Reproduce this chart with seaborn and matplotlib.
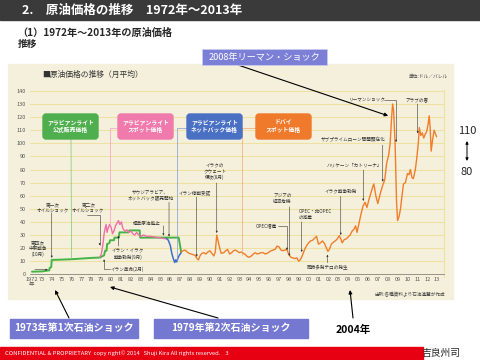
import matplotlib
matplotlib.use("Agg")
import matplotlib.pyplot as plt
from matplotlib.patches import Rectangle, FancyBboxPatch
import seaborn as sns

# --- data (USD / barrel, monthly averages) ---
official_years = [1972.0, 1973.0, 1973.75, 1973.8, 1973.95, 1974.0, 1975.0, 1976.0, 1977.0, 1978.0,
                  1978.9, 1979.0, 1979.3, 1979.4, 1979.55, 1979.6, 1979.85, 1979.9, 1980.3, 1980.35,
                  1980.8, 1980.85, 1981.8, 1981.85, 1982.9, 1982.95, 1986.85, 1987.1]
official_price = [2.0, 2.2, 3.0, 5.0, 5.5, 11.0, 11.2, 11.5, 12.0, 12.5,
                  12.8, 13.3, 14.5, 18.0, 18.0, 23.0, 24.0, 26.0, 26.0, 28.0,
                  28.0, 32.0, 32.0, 33.5, 33.5, 28.0, 28.0, 17.0]

spot_years = [1978.85, 1979.0, 1979.1, 1979.2, 1979.3, 1979.4, 1979.5, 1979.6, 1979.7, 1979.85,
              1980.0, 1980.15, 1980.3, 1980.45, 1980.6, 1980.75, 1980.9, 1981.05, 1981.2, 1981.4,
              1981.6, 1981.8, 1982.0, 1982.2, 1982.4, 1982.6, 1982.8, 1983.0, 1983.3, 1983.6,
              1984.0, 1984.4, 1984.8, 1985.2, 1985.6]
spot_price = [13, 15, 19, 24, 31, 35, 38, 32, 35, 38,
              36, 31, 33, 37, 39, 41, 38, 40, 35, 33,
              34, 32, 33, 31, 30, 32, 30, 29, 30, 29,
              29, 28.5, 28, 27.5, 27]

netback_years = [1985.6, 1985.8, 1986.0, 1986.15, 1986.3, 1986.45, 1986.55, 1986.65, 1986.8, 1986.95, 1987.1]
netback_price = [27.5, 26, 22, 16, 12, 9, 11, 9.5, 13, 15, 16.5]

dubai_years = [1987.1, 1987.3, 1987.5, 1987.7, 1987.9, 1988.1, 1988.3, 1988.5, 1988.7, 1988.85,
               1989.0, 1989.2, 1989.4, 1989.6, 1989.8, 1990.0, 1990.2, 1990.4, 1990.55, 1990.7,
               1990.85, 1991.0, 1991.15, 1991.4, 1991.6, 1991.8, 1992.0, 1992.2, 1992.4, 1992.6,
               1992.8, 1993.0, 1993.2, 1993.4, 1993.6, 1993.8, 1994.0, 1994.2, 1994.4, 1994.6,
               1994.8, 1995.0, 1995.2, 1995.4, 1995.6, 1995.8, 1996.0, 1996.2, 1996.4, 1996.6,
               1996.8, 1997.0, 1997.2, 1997.4, 1997.6, 1997.8, 1998.0, 1998.2, 1998.4, 1998.6,
               1998.8, 1999.0, 1999.2, 1999.4, 1999.6, 1999.8, 2000.0, 2000.2, 2000.4, 2000.6,
               2000.8, 2001.0, 2001.2, 2001.4, 2001.6, 2001.8, 2001.95, 2002.1, 2002.3, 2002.5,
               2002.7, 2002.9, 2003.1, 2003.25, 2003.4, 2003.6, 2003.8, 2004.0, 2004.2, 2004.4,
               2004.6, 2004.75, 2004.9, 2005.1, 2005.3, 2005.5, 2005.7, 2005.9, 2006.1, 2006.3,
               2006.5, 2006.6, 2006.8, 2007.0, 2007.1, 2007.3, 2007.5, 2007.7, 2007.9, 2008.1,
               2008.25, 2008.4, 2008.5, 2008.6, 2008.75, 2008.9, 2009.0, 2009.15, 2009.3, 2009.45,
               2009.6, 2009.8, 2010.0, 2010.15, 2010.3, 2010.45, 2010.6, 2010.8, 2010.95, 2011.1,
               2011.2, 2011.35, 2011.5, 2011.65, 2011.8, 2011.95, 2012.1, 2012.2, 2012.3, 2012.4,
               2012.55, 2012.7, 2012.85, 2012.95]
dubai_price = [17, 18, 18.5, 17, 16, 15.5, 15, 14.5, 12, 11,
               14, 16, 16.5, 15.5, 17, 18, 16, 14, 17, 30,
               25, 20, 16, 16.5, 18, 19, 15.5, 16.5, 18, 18.5,
               17.5, 16.5, 17, 16, 15, 13.5, 13, 14, 15.5, 16.5,
               15.5, 16, 16.5, 16.5, 15.5, 16, 17, 18, 18.5, 19,
               21.5, 21, 18.5, 18, 18.5, 19, 15, 13, 12.5, 12,
               12.5, 10, 11.5, 15, 19, 22, 24, 25.5, 26, 27.5,
               29, 23, 24, 25.5, 23.5, 20, 17.5, 19, 23, 24.5,
               25.5, 27, 29.5, 27, 24, 26.5, 27, 28.5, 30, 33,
               34.5, 37, 32, 39, 46, 52, 55, 51, 57, 62,
               67, 69, 60, 54, 57, 63, 68, 72, 85, 91,
               100, 120, 130, 125, 100, 55, 41, 44, 50, 60,
               69, 70, 77, 76, 80, 74, 73, 80, 89, 100,
               112, 106, 108, 104, 107, 109, 115, 121, 112, 94,
               103, 110, 107, 105]

year_ticks = list(range(1972, 2014))
year_labels = ["1972\n年"] + [f"{y % 100:02d}" for y in range(1973, 2014)]
grid_years = [1975, 1980, 1985, 1990, 1995, 2000, 2005, 2010]
price_ticks = list(range(0, 150, 10))

C_GREEN, C_PINK, C_BLUE, C_ORANGE = "#45b348", "#f06fa8", "#3f6dcc", "#f07d2c"
BEIGE, GRID = "#f5f0dc", "#efe1a2"

sns.set_style("white")
plt.rcParams["font.family"] = ["Noto Sans CJK JP", "DejaVu Sans"]

fig = plt.figure(figsize=(4.8, 3.6), dpi=100)

# background layer in pixel coordinates
bg = fig.add_axes([0, 0, 1, 1])
bg.set_xlim(0, 480)
bg.set_ylim(360, 0)
bg.axis("off")

bg.add_patch(Rectangle((0, 0), 480, 20, color="#3a3a3a"))
bg.text(22, 10.5, "2.　原油価格の推移　1972年～2013年", color="white", fontsize=9,
        fontweight="bold", va="center", ha="left")
bg.text(17, 33, "（1）1972年～2013年の原油価格", fontsize=7.3, fontweight="bold", va="center")
bg.text(18, 44, "推移", fontsize=7, fontweight="bold", va="center")

bg.add_patch(Rectangle((8, 64), 445, 235, color=BEIGE))
bg.text(42, 75, "■原油価格の推移（月平均）", fontsize=5.6, color="#333333", va="center")
bg.text(428, 76, "単位:ドル／バレル", fontsize=3.4, color="#444444", va="center", ha="center")
bg.text(410, 295, "出所:各種資料より石油連盟が作成", fontsize=3.3, color="#444444",
        va="center", ha="center")

# outer call-out boxes
bg.add_patch(Rectangle((10, 319), 128, 19, color="#7478d0"))
bg.text(74, 328.5, "1973年第1次石油ショック", color="white", fontsize=7.2, fontweight="bold",
        ha="center", va="center")
bg.add_patch(Rectangle((154, 319), 154, 19, color="#7478d0"))
bg.text(231, 328.5, "1979年第2次石油ショック", color="white", fontsize=7.2, fontweight="bold",
        ha="center", va="center")
bg.text(353, 330, "2004年", color="black", fontsize=7.5, fontweight="bold", ha="center", va="center")

arrow_kw = dict(arrowstyle="-|>", lw=0.8, color="black", mutation_scale=5, shrinkA=0, shrinkB=0)
bg.annotate("", xy=(55, 290), xytext=(69, 318), arrowprops=arrow_kw)
bg.annotate("", xy=(110, 287), xytext=(218, 318), arrowprops=arrow_kw)
bg.annotate("", xy=(350, 290), xytext=(353, 318), arrowprops=arrow_kw)

# right-hand range note
bg.text(467, 131, "110", fontsize=8, ha="center", va="center")
bg.text(467, 172, "80", fontsize=8, ha="center", va="center")
bg.annotate("", xy=(467, 161), xytext=(467, 141),
            arrowprops=dict(arrowstyle="<|-|>", lw=0.7, color="black", mutation_scale=4,
                            shrinkA=0, shrinkB=0))

# footer
bg.add_patch(Rectangle((0, 347), 423, 13, color="#e60012"))
bg.text(5, 353.5, "CONFIDENTIAL & PROPRIETARY  copy right© 2014   Shuji Kira All rights reserved.    3",
        color="white", fontsize=4.2, va="center")
bg.text(441, 353, "吉良州司", fontsize=7, ha="center", va="center")

# main chart
ax = fig.add_axes([30 / 480, 0.2308, 414 / 480, 0.5203])
ax.set_facecolor("none")

for xs, ys, col, lw in [(official_years, official_price, C_GREEN, 1.4),
                        (spot_years, spot_price, C_PINK, 1.0),
                        (netback_years, netback_price, C_BLUE, 1.1),
                        (dubai_years, dubai_price, C_ORANGE, 1.0)]:
    sns.lineplot(x=xs, y=ys, ax=ax, color=col, lw=lw, estimator=None, sort=False, zorder=3)

ax.set_xlim(1971.8, 2013.7)
ax.set_ylim(-2, 141)
for s in ["top", "left"]:
    ax.spines[s].set_visible(False)
ax.spines["right"].set_color(GRID)
ax.spines["right"].set_linewidth(0.8)
ax.spines["bottom"].set_position(("data", 0))
ax.spines["bottom"].set_color("#888888")
ax.spines["bottom"].set_linewidth(0.6)

ax.set_xticks(year_ticks)
ax.set_xticklabels(year_labels, linespacing=1.0)
ax.set_xticks(grid_years, minor=True)
ax.set_yticks(price_ticks)
ax.set_yticklabels([str(v) for v in price_ticks])
ax.tick_params(axis="x", which="major", direction="in", length=3, width=0.5, color="#777777",
               pad=2, labelsize=4, labelcolor="#555555")
ax.tick_params(axis="x", which="minor", length=0)
ax.tick_params(axis="y", length=0, pad=3, labelsize=4, labelcolor="#555555")
ax.yaxis.grid(True, color=GRID, lw=0.8)
ax.xaxis.grid(True, which="minor", color=GRID, lw=0.8)
ax.set_axisbelow(True)
ax.set_xlabel("")
ax.set_ylabel("")

# connectors from label boxes to the series
conn_kw = dict(arrowstyle="-", lw=0.5, shrinkA=0, shrinkB=0)
ax.annotate("", xy=(1976.0, 11.8), xytext=(71, 139), textcoords=bg.transData,
            arrowprops=dict(color="#7cc57a", **conn_kw))
for x0, tip, col in [(118, (1979.9, 38), "#f49cc4"), (187, (1986.65, 10), "#7f9ad6"),
                     (256, (1993.3, 15), "#f3a56e")]:
    ax.annotate("", xy=tip, xytext=(x0, 128), textcoords=bg.transData,
                arrowprops=dict(color=col, connectionstyle="angle,angleA=0,angleB=90,rad=0", **conn_kw))

ax.annotate("", xy=(2008.05, 121), xytext=(238, 65), textcoords=bg.transData,
            arrowprops=dict(arrowstyle="-|>", lw=0.8, color="black", mutation_scale=5,
                            shrinkA=0, shrinkB=0))


def note(text, x, y, ha="center"):
    ax.text(x, y, text, fontsize=3.3, color="#333333", ha=ha, va="center", linespacing=1.15, zorder=4)


def pointer(x0, y0, x1, y1, bend=False):
    props = dict(arrowstyle="-|>", lw=0.4, color="#333333", mutation_scale=2.5, shrinkA=0, shrinkB=0)
    if bend:
        props["connectionstyle"] = "angle,angleA=0,angleB=90,rad=0"
    ax.annotate("", xy=(x1, y1), xytext=(x0, y0), arrowprops=props, zorder=4)


note("第四次\n中東戦争\n(10月)", 1972.6, 19.7)
pointer(1972.3, 3.5, 1973.6, 3.5)
note("第一次\nオイルショック", 1974.1, 51)
pointer(1974.0, 47, 1974.0, 12.5)
note("第二次\nオイルショック", 1977.7, 51)
pointer(1977.6, 45.3, 1978.85, 22, bend=True)
note("標準原油廃止", 1983.6, 39)
pointer(1985.3, 37, 1985.3, 29.5)
note("サウジアラビア、\nネットバック販売開始", 1984.0, 60.5)
pointer(1985.87, 55, 1985.87, 28.8)
note("イラン停戦受諾", 1988.5, 62.6)
pointer(1988.67, 59, 1988.67, 13.4)
note("イラクの\nクウェート\n侵攻(8月)", 1990.5, 78.5)
pointer(1990.7, 69.7, 1990.7, 31.5)
note("イラン・イラク\n戦争勃発(9月)", 1981.7, 15.5)
pointer(1980.74, 21.5, 1980.74, 29.5)
note("イラン革命(2月)", 1979.95, 4, ha="left")
pointer(1979.9, 4, 1979.3, 11.5, bend=True)
note("OPEC増産", 1995.7, 36.9)
pointer(1996.95, 36.9, 1997.8, 18.5, bend=True)
note("アジアの\n経済危機", 1997.35, 57.5)
pointer(1998.05, 51.6, 1998.05, 14)
note("OPEC・非OPEC\nの減産", 1999.0, 46, ha="left")
pointer(1999.3, 40, 1999.3, 17)
note("同時多発テロの発生", 2001.95, 5.8)
pointer(2001.9, 8.9, 2001.9, 15)
note("イラク戦争勃発", 2003.25, 63.8)
pointer(2003.25, 59.5, 2003.25, 30)
note("ハリケーン「カトリーナ」", 2004.6, 83.4)
pointer(2005.53, 79.6, 2005.53, 56)
note("サブプライムローン問題顕在化", 2004.45, 102.5)
pointer(2007.5, 98.6, 2007.5, 70.7)
note("リーマンショック", 2005.9, 133)
pointer(2007.6, 133, 2008.85, 101, bend=True)
note("アラブの春", 2011.0, 133)
pointer(2011.04, 130, 2011.04, 107.6)

# overlay layer for label boxes (drawn above the grid)
top = fig.add_axes([0, 0, 1, 1])
top.set_xlim(0, 480)
top.set_ylim(360, 0)
top.axis("off")
top.patch.set_alpha(0)

boxes = [
    (43, "アラビアンライト\n公式販売価格", "#4fae4d"),
    (118, "アラビアンライト\nスポット価格", "#f07aac"),
    (187, "アラビアンライト\nネットバック価格", "#4a70c4"),
    (256, "ドバイ\nスポット価格", "#f07a2c"),
]
for bx, label, col in boxes:
    top.add_patch(FancyBboxPatch((bx, 114), 55, 25, boxstyle="round,pad=0,rounding_size=3",
                                 color=col))
    top.text(bx + 27.5, 126.5, label, color="white", fontsize=4.2, fontweight="bold",
             ha="center", va="center", linespacing=1.3)

top.add_patch(Rectangle((202, 49), 125, 16, facecolor="#7b7fd6", edgecolor="#c9cbee", lw=0.6))
top.text(264.5, 57.5, "2008年リーマン・ショック", color="white", fontsize=6.6,
         ha="center", va="center")

fig.savefig("out.png", dpi=100)
